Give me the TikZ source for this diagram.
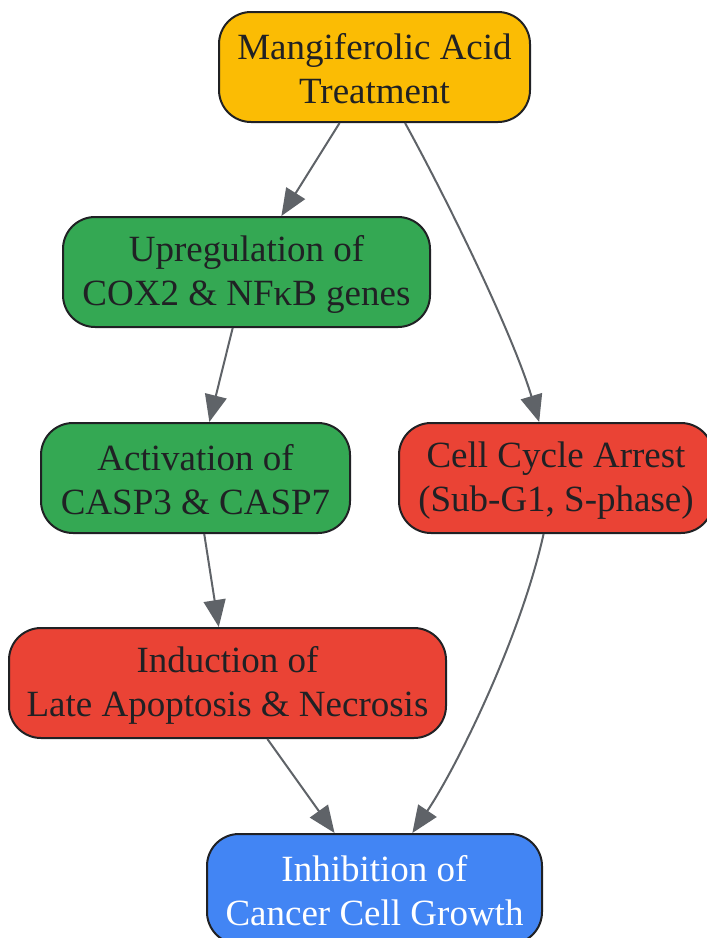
\documentclass[tikz,border=0pt]{standalone}
\usepackage{fontspec}
\setmainfont{Liberation Serif}
\usetikzlibrary{arrows.meta}
\definecolor{cyellow}{HTML}{FBBC04}
\definecolor{cgreen}{HTML}{34A853}
\definecolor{cred}{HTML}{EA4335}
\definecolor{cblue}{HTML}{4285F4}
\definecolor{cborder}{HTML}{202124}
\definecolor{cedge}{HTML}{5F6368}
\newcommand{\firstline}{\rule{0pt}{30pt}}
\tikzset{
  box/.style={draw=cborder, line width=2pt, rounded corners=32pt, minimum height=110pt,
    inner sep=0pt, align=center, text=cborder, font=\fontsize{37}{44}\selectfont},
  conn/.style={draw=cedge, line width=2pt, -{Triangle[length=27pt,width=22pt]}}
}
\begin{document}
\begin{tikzpicture}[x=1pt,y=-1pt]
\useasboundingbox (0,0) rectangle (707,938);
\clip (0,0) rectangle (707,938);
\node[box, fill=cyellow, minimum width=311pt] (top) at (374.5,67) {\firstline Mangiferolic Acid\\Treatment};
\node[box, fill=cgreen, minimum width=367pt] (up) at (246.5,272) {\firstline Upregulation of\\COX2 \& NFκB genes};
\node[box, fill=cgreen, minimum width=309pt] (act) at (195.5,478) {\firstline Activation of\\CASP3 \& CASP7};
\node[box, fill=cred, minimum width=314pt] (cc) at (556,478) {\firstline Cell Cycle Arrest\\(Sub-G1, S-phase)};
\node[box, fill=cred, minimum width=437pt] (ind) at (227.5,683) {\firstline Induction of\\Late Apoptosis \& Necrosis};
\node[box, fill=cblue, minimum width=335pt, text=white] (inh) at (374.5,889) {\firstline Inhibition of\\Cancer Cell Growth};
\draw[conn] (top) -- (up);
\draw[conn] (up) -- (act);
\draw[conn] (act) -- (ind);
\draw[conn] (ind) -- (inh);
\draw[conn] (top) .. controls (450,205) and (513,335) .. (cc);
\draw[conn] (cc) .. controls (520,640) and (455,770) .. (inh);
\end{tikzpicture}
\end{document}
